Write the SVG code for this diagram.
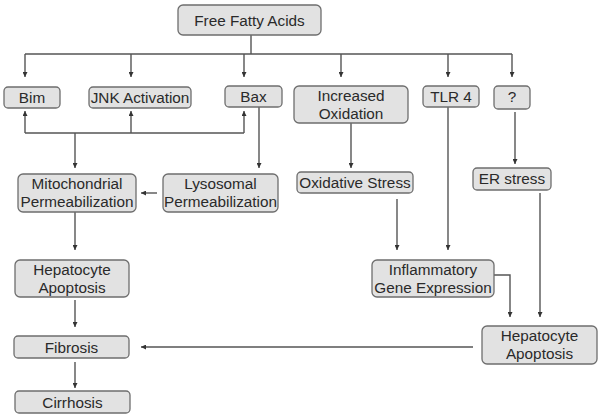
<svg xmlns="http://www.w3.org/2000/svg" width="601" height="418" viewBox="0 0 601 418">
<defs>
<style>
.box{fill:#e2e2e2;stroke:#6e6e6e;stroke-width:1.3}
.t{font-family:"Liberation Sans",Arial,sans-serif;font-size:15.3px;fill:#2a2a2a;text-anchor:middle}
.c{fill:none;stroke:#555;stroke-width:1.4}
</style>
<marker id="ah" viewBox="0 0 10 10" refX="10" refY="5" markerWidth="5" markerHeight="5" markerUnits="userSpaceOnUse" orient="auto">
<path d="M0,0 L10,5 L0,10 Z" fill="#333"/>
</marker>
</defs>
<rect width="601" height="418" fill="#fff"/>
<g id="connectors">
<path class="c" d="M251,35 V54 M25,54 H512"/>
<path class="c" d="M25,54 V77" marker-end="url(#ah)"/>
<path class="c" d="M131,54 V77" marker-end="url(#ah)"/>
<path class="c" d="M244,54 V77" marker-end="url(#ah)"/>
<path class="c" d="M341,54 V77" marker-end="url(#ah)"/>
<path class="c" d="M448,54 V77" marker-end="url(#ah)"/>
<path class="c" d="M512,54 V77" marker-end="url(#ah)"/>
<path class="c" d="M25,133 H244"/>
<path class="c" d="M25,133 V111" marker-end="url(#ah)"/>
<path class="c" d="M131,133 V111" marker-end="url(#ah)"/>
<path class="c" d="M244,133 V111" marker-end="url(#ah)"/>
<path class="c" d="M75,133 V168" marker-end="url(#ah)"/>
<path class="c" d="M259,107 V168" marker-end="url(#ah)"/>
<path class="c" d="M157,193 H141" marker-end="url(#ah)"/>
<path class="c" d="M75,212 V250" marker-end="url(#ah)"/>
<path class="c" d="M75,300 V327" marker-end="url(#ah)"/>
<path class="c" d="M75,362 V388" marker-end="url(#ah)"/>
<path class="c" d="M473,347 H141" marker-end="url(#ah)"/>
<path class="c" d="M351,123 V168" marker-end="url(#ah)"/>
<path class="c" d="M515,112 V164" marker-end="url(#ah)"/>
<path class="c" d="M397,199 V250" marker-end="url(#ah)"/>
<path class="c" d="M448,107 V250" marker-end="url(#ah)"/>
<path class="c" d="M540,193 V317" marker-end="url(#ah)"/>
<path class="c" d="M494,275 H510 V317" marker-end="url(#ah)"/>
</g>
<g id="ffa"><rect class="box" x="178" y="5" width="143" height="30" rx="5"/><text class="t" x="249.5" y="25.5">Free Fatty Acids</text></g>
<g id="bim"><rect class="box" x="4" y="87" width="56" height="21" rx="4"/><text class="t" x="32" y="103">Bim</text></g>
<g id="jnk"><rect class="box" x="89" y="87" width="102" height="21" rx="4"/><text class="t" x="140" y="103">JNK Activation</text></g>
<g id="bax"><rect class="box" x="225" y="86" width="57" height="21" rx="4"/><text class="t" x="253.5" y="102">Bax</text></g>
<g id="incox"><rect class="box" x="294" y="86" width="114" height="37" rx="5"/><text class="t" x="351" y="101">Increased</text><text class="t" x="351" y="119">Oxidation</text></g>
<g id="tlr4"><rect class="box" x="423" y="86" width="56" height="21" rx="4"/><text class="t" x="451" y="102">TLR 4</text></g>
<g id="q"><rect class="box" x="494" y="86" width="36" height="23" rx="4"/><text class="t" x="512" y="102">?</text></g>
<g id="mito"><rect class="box" x="18" y="174" width="118" height="38" rx="5"/><text class="t" x="77" y="189">Mitochondrial</text><text class="t" x="77" y="207">Permeabilization</text></g>
<g id="lyso"><rect class="box" x="163" y="174" width="115" height="38" rx="5"/><text class="t" x="220.5" y="189">Lysosomal</text><text class="t" x="220.5" y="207">Permeabilization</text></g>
<g id="oxs"><rect class="box" x="297" y="172" width="116" height="21" rx="4"/><text class="t" x="355" y="188">Oxidative Stress</text></g>
<g id="ers"><rect class="box" x="473" y="168" width="78" height="22" rx="4"/><text class="t" x="512" y="184">ER stress</text></g>
<g id="hepa1"><rect class="box" x="15" y="260" width="114" height="37" rx="5"/><text class="t" x="72" y="275">Hepatocyte</text><text class="t" x="72" y="293">Apoptosis</text></g>
<g id="infl"><rect class="box" x="372" y="260" width="122" height="37" rx="5"/><text class="t" x="433" y="275">Inflammatory</text><text class="t" x="433" y="293">Gene Expression</text></g>
<g id="fib"><rect class="box" x="14" y="336" width="115" height="22" rx="4"/><text class="t" x="71.5" y="352.5">Fibrosis</text></g>
<g id="hepa2"><rect class="box" x="482" y="326" width="115" height="38" rx="5"/><text class="t" x="539.5" y="341">Hepatocyte</text><text class="t" x="539.5" y="359">Apoptosis</text></g>
<g id="cirr"><rect class="box" x="15" y="391" width="115" height="22" rx="4"/><text class="t" x="72.5" y="407.5">Cirrhosis</text></g>
</svg>
